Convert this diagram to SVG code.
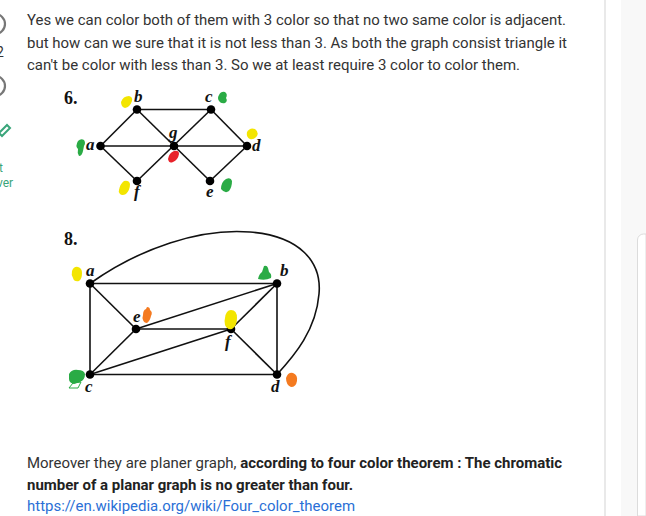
<svg xmlns="http://www.w3.org/2000/svg" width="646" height="516" viewBox="0 0 646 516">
<style>
.t{font-family:Roboto,"Liberation Sans",sans-serif;font-size:15px;fill:#333}
.b{font-weight:bold;fill:#222}
.lbl{font-family:"Liberation Serif",serif;font-style:italic;font-weight:bold;font-size:17px;fill:#111}
.num{font-family:"Liberation Serif",serif;font-weight:bold;font-size:18px;fill:#111}
.e{stroke:#111;stroke-width:1.6;fill:none}
.n{fill:#000}
.y{fill:#f3e500}.g{fill:#2aab45}.r{fill:#e8222a}.o{fill:#f47a20}
.side{font-family:Roboto,"Liberation Sans",sans-serif;font-size:12px;fill:#3aa57a}
</style>
<rect width="646" height="516" fill="#fff"/>
<rect x="621" y="0" width="25" height="516" fill="#f8f8f8"/>
<line x1="605" y1="0" x2="605" y2="516" stroke="#e2e2e2" stroke-width="1.5"/>
<path d="M637.5,516 V240 a6,6 0 0 1 6,-6 H646 V516 Z" fill="#fff" stroke="#dcdcdc"/>

<g id="sidebar">
<circle cx="-5" cy="24" r="10" fill="none" stroke="#777" stroke-width="2.2"/>
<text x="-4" y="57" font-family="Roboto,sans-serif" font-size="14" fill="#333">2</text>
<circle cx="-5" cy="86" r="10" fill="none" stroke="#777" stroke-width="2.2"/>
<path d="M-1,133 L7,125 L10,128 L2,136 Z" fill="none" stroke="#3aa57a" stroke-width="2"/>
<text class="side" x="-1" y="172">t</text>
<text class="side" x="-3" y="187">ver</text>
</g>

<g id="text-top">
<text class="t" x="27" y="25" textLength="539" lengthAdjust="spacingAndGlyphs">Yes we can color both of them with 3 color so that no two same color is adjacent.</text>
<text class="t" x="27" y="48" textLength="540" lengthAdjust="spacingAndGlyphs">but how can we sure that it is not less than 3. As both the graph consist triangle it</text>
<text class="t" x="27" y="70" textLength="493" lengthAdjust="spacingAndGlyphs">can't be color with less than 3. So we at least require 3 color to color them.</text>
</g>

<g id="graph6">
<text class="num" x="64" y="104">6.</text>
<g id="connectors6">
<line class="e" x1="137" y1="109.5" x2="211" y2="109.5"/>
<line class="e" x1="100.5" y1="146" x2="247" y2="146"/>
<line class="e" x1="100.5" y1="146" x2="137" y2="109.5"/>
<line class="e" x1="137" y1="109.5" x2="210" y2="181"/>
<line class="e" x1="100.5" y1="146" x2="137" y2="181"/>
<line class="e" x1="137" y1="181" x2="211" y2="109.5"/>
<line class="e" x1="211" y1="109.5" x2="247" y2="146"/>
<line class="e" x1="210" y1="181" x2="247" y2="146"/>
</g>
<g id="n6a"><circle class="n" cx="100.5" cy="146" r="4.3"/><text class="lbl" x="86" y="150">a</text><path class="g" d="M78,141 q3,-3 6,-1 q2,3 0,6 l-1,5 q-1,5 -4,5 q-2,-3 -1,-7 q-3,-3 0,-8 z"/></g>
<g id="n6b"><circle class="n" cx="137" cy="109.5" r="4.3"/><text class="lbl" x="134" y="102">b</text><path class="y" d="M121,102 q2,-6 8,-6 q4,1 3,5 q-2,6 -7,7 q-4,-1 -4,-6 z"/></g>
<g id="n6c"><circle class="n" cx="211" cy="109.5" r="4.3"/><text class="lbl" x="205" y="102">c</text><path class="g" d="M219,95 q2,-4 6,-3 q3,2 1,6 q2,3 -1,5 q-4,1 -6,-2 q-2,-3 0,-6 z"/></g>
<g id="n6g"><circle class="n" cx="174" cy="146" r="4.3"/><text class="lbl" x="169" y="138">g</text><path class="r" d="M168,159 q1,-6 6,-8 q5,-1 5,3 q-1,6 -6,8 q-4,2 -5,-3 z"/></g>
<g id="n6d"><circle class="n" cx="247" cy="146" r="4.3"/><text class="lbl" x="252" y="151">d</text><path class="y" d="M247,132 q3,-5 8,-3 q4,3 2,7 q-3,4 -7,3 q-4,-2 -3,-7 z"/></g>
<g id="n6f"><circle class="n" cx="137" cy="181" r="4.3"/><text class="lbl" x="134" y="197">f</text><path class="y" d="M119,190 q1,-6 5,-9 q5,-1 6,3 q0,6 -4,10 q-4,2 -6,0 q-2,-2 -1,-4 z"/></g>
<g id="n6e"><circle class="n" cx="210" cy="181" r="4.3"/><text class="lbl" x="206" y="197">e</text><path class="g" d="M221,189 q0,-7 5,-10 q5,-2 6,2 q0,6 -3,10 q-4,3 -8,-2 z"/></g>
</g>

<g id="graph8">
<text class="num" x="64" y="245">8.</text>
<g id="connectors8">
<line class="e" x1="90" y1="283.5" x2="277" y2="283.5"/>
<line class="e" x1="90" y1="283.5" x2="90" y2="374.5"/>
<line class="e" x1="277" y1="283.5" x2="277" y2="374.5"/>
<line class="e" x1="90" y1="374.5" x2="277" y2="374.5" stroke-width="2"/>
<line class="e" x1="90" y1="283.5" x2="136" y2="329"/>
<line class="e" x1="136" y1="329" x2="231" y2="329"/>
<line class="e" x1="136" y1="329" x2="277" y2="283.5"/>
<line class="e" x1="136" y1="329" x2="90" y2="374.5"/>
<line class="e" x1="231" y1="329" x2="90" y2="374.5"/>
<line class="e" x1="231" y1="329" x2="277" y2="283.5"/>
<line class="e" x1="231" y1="329" x2="277" y2="374.5"/>
<path class="e" d="M90,283.5 C140,248 200,228 250,232 C300,236 322,262 319,294 C316,330 295,355 277,374.5"/>
</g>
<g id="n8a"><circle class="n" cx="90" cy="283.5" r="4.3"/><text class="lbl" x="86" y="276">a</text><path class="y" d="M72,271 q2,-5 6,-4 q4,1 4,6 q0,6 -3,8 q-5,1 -6,-3 q-2,-3 -1,-7 z"/></g>
<g id="n8b"><circle class="n" cx="277" cy="283.5" r="4.3"/><text class="lbl" x="280" y="276">b</text><path class="g" d="M258,279 q1,-5 4,-7 l2,-6 q3,-1 4,2 l1,4 q3,2 2,6 q-6,3 -13,1 z"/></g>
<g id="n8e"><circle class="n" cx="136" cy="329" r="4.3"/><text class="lbl" x="133" y="322">e</text><path class="o" d="M143,315 q0,-5 3,-6 l1,-2 q3,0 3,3 q3,2 1,6 q-1,5 -4,7 q-3,0 -4,-3 q-1,-2 0,-5 z"/></g>
<g id="n8f"><circle class="n" cx="231" cy="329" r="4.3"/><text class="lbl" x="225" y="347">f</text><path class="y" d="M225,318 q1,-8 6,-8 q6,0 6,8 q0,8 -5,11 q-5,1 -7,-4 q-1,-4 0,-7 z"/></g>
<g id="n8c"><circle class="n" cx="90" cy="374.5" r="4.3"/><text class="lbl" x="85" y="392">c</text><path class="g" d="M69,374 q3,-5 9,-4 q6,0 7,4 q0,6 -5,8 l-6,2 q-5,-1 -5,-5 z"/><path d="M69,388 l4,-5 l8,-1 l-3,6 z" fill="none" stroke="#2aab45"/></g>
<g id="n8d"><circle class="n" cx="277" cy="374.5" r="4.3"/><text class="lbl" x="271" y="392">d</text><path class="o" d="M286,378 q2,-6 7,-5 q5,2 4,8 q-1,6 -6,6 q-5,-2 -5,-9 z"/></g>
</g>

<g id="text-bottom">
<text class="t" x="27" y="468" textLength="535" lengthAdjust="spacingAndGlyphs">Moreover they are planer graph, <tspan class="b">according to four color theorem : The chromatic</tspan></text>
<text class="t b" x="27" y="490" textLength="326" lengthAdjust="spacingAndGlyphs">number of a planar graph is no greater than four.</text>
<text class="t" x="27" y="511" style="fill:#2a6fd6" textLength="328" lengthAdjust="spacingAndGlyphs">https://en.wikipedia.org/wiki/Four_color_theorem</text>
</g>
</svg>
